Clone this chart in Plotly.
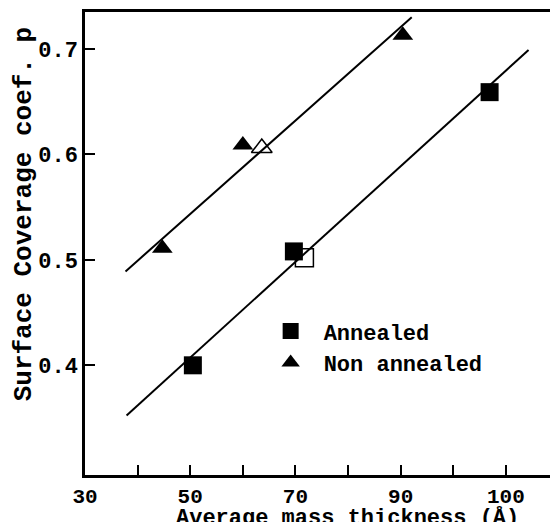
import plotly.graph_objects as go

# Data (x: average mass thickness, y: surface coverage coef. p)
annealed_x = [50.5, 69.7, 106.9]
annealed_y = [0.400, 0.508, 0.659]
annealed_open_x = [71.7]
annealed_open_y = [0.502]

non_annealed_x = [44.7, 60.0, 90.4]
non_annealed_y = [0.511, 0.609, 0.713]
non_annealed_open_x = [63.6]
non_annealed_open_y = [0.606]

# Fitted straight lines (end points)
fit_annealed_x = [37.9, 114.3]
fit_annealed_y = [0.3525, 0.699]
fit_non_annealed_x = [37.7, 92.1]
fit_non_annealed_y = [0.489, 0.730]

x_tickvals = [30, 40, 50, 60, 70, 80, 90, 100, 110]
x_ticktext = ["30", "", "50", "", "70", "", "90", "", "100"]
y_tickvals = [0.4, 0.5, 0.6, 0.7]
y_ticktext = ["0.4", "0.5", "0.6", "0.7"]

FONT = "Liberation Mono"
BLACK = "#000000"

fig = go.Figure()

fig.add_trace(go.Scatter(x=fit_annealed_x, y=fit_annealed_y, mode="lines",
                         line=dict(color=BLACK, width=2), showlegend=False, hoverinfo="skip"))
fig.add_trace(go.Scatter(x=fit_non_annealed_x, y=fit_non_annealed_y, mode="lines",
                         line=dict(color=BLACK, width=2), showlegend=False, hoverinfo="skip"))

fig.add_trace(go.Scatter(x=annealed_open_x, y=annealed_open_y, mode="markers",
                         marker=dict(symbol="square-open", size=18, color=BLACK, line=dict(width=1.5)),
                         showlegend=False))
fig.add_trace(go.Scatter(x=non_annealed_open_x, y=non_annealed_open_y, mode="markers",
                         marker=dict(symbol="triangle-up-open", size=18, color=BLACK, line=dict(width=1.5)),
                         showlegend=False))

fig.add_trace(go.Scatter(x=annealed_x, y=annealed_y, mode="markers", name="Annealed",
                         marker=dict(symbol="square", size=18, color=BLACK)))
fig.add_trace(go.Scatter(x=non_annealed_x, y=non_annealed_y, mode="markers", name="Non annealed",
                         marker=dict(symbol="triangle-up", size=18, color=BLACK)))

fig.update_layout(
    width=550, height=514,
    margin=dict(l=77, r=0, t=4, b=47, pad=0),
    paper_bgcolor="white", plot_bgcolor="white",
    font=dict(family=FONT, size=22, color=BLACK),
    legend=dict(x=0.365, y=0.356, xanchor="left", yanchor="top",
                bgcolor="rgba(0,0,0,0)", itemwidth=56, tracegroupgap=0,
                font=dict(family=FONT, size=22, color=BLACK, weight="bold")),
    xaxis=dict(range=[30, 119.9], tickvals=x_tickvals, ticktext=x_ticktext,
               ticks="inside", ticklen=10, tickwidth=2, tickcolor=BLACK,
               showline=True, linecolor=BLACK, linewidth=2.5, mirror=True,
               showgrid=False, zeroline=False,
               tickfont=dict(family=FONT, size=21, color=BLACK, weight="bold")),
    yaxis=dict(range=[0.296, 0.735], tickvals=y_tickvals, ticktext=y_ticktext,
               ticks="inside", ticklen=10, tickwidth=2, tickcolor=BLACK,
               showline=True, linecolor=BLACK, linewidth=2.5, mirror=False,
               showgrid=False, zeroline=False,
               tickfont=dict(family=FONT, size=22, color=BLACK, weight="bold")),
    annotations=[
        dict(text="Average mass thickness (Å)", xref="paper", yref="paper",
             x=0.556, y=-0.092, xanchor="center", yanchor="middle", showarrow=False,
             font=dict(family=FONT, size=22, color=BLACK, weight="bold")),
        dict(text="Surface Coverage coef. p", xref="paper", yref="paper",
             x=-0.13, y=0.562, xanchor="center", yanchor="middle", showarrow=False,
             textangle=-90,
             font=dict(family=FONT, size=26, color=BLACK, weight="bold")),
    ],
)

fig.write_html("out.html")
